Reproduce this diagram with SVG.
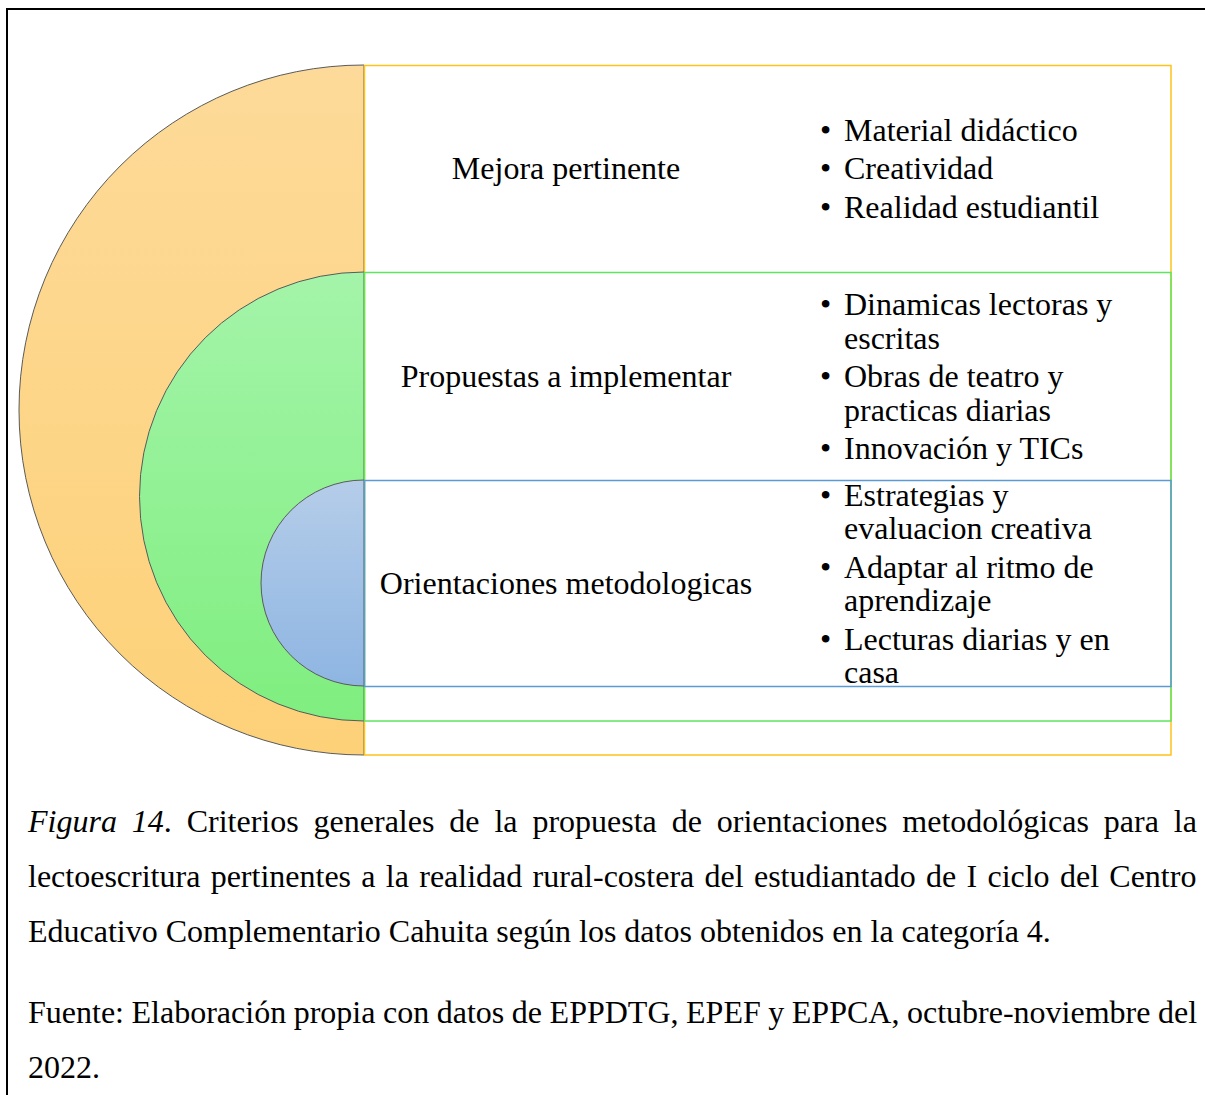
<svg xmlns="http://www.w3.org/2000/svg" width="1205" height="1095" viewBox="0 0 1205 1095">
<defs>
<linearGradient id="gO" x1="0" y1="0" x2="0" y2="1"><stop offset="0" stop-color="#FDDA99"/><stop offset="1" stop-color="#FDD178"/></linearGradient>
<linearGradient id="gG" x1="0" y1="0" x2="0" y2="1"><stop offset="0" stop-color="#A4F4A9"/><stop offset="1" stop-color="#7FEE7F"/></linearGradient>
<linearGradient id="gB" x1="0" y1="0" x2="0" y2="1"><stop offset="0" stop-color="#B5CDE9"/><stop offset="1" stop-color="#8EB5E2"/></linearGradient>
<style>
.t{font-family:"Liberation Serif","Times New Roman",serif;font-size:32px;fill:#000}
.c{font-family:"Liberation Serif","Times New Roman",serif;font-size:32px;fill:#000}
.arc{stroke:#5a5a5a;stroke-width:1}
.box{fill:none;stroke-width:1.5}
</style>
</defs>
<rect x="7" y="9" width="1210" height="1100" fill="#fff" stroke="#000" stroke-width="2"/>
<g id="outer">
<path class="arc" d="M364,65 A345,345 0 0 0 364,755 Z" fill="url(#gO)"/>
<rect class="box" x="364.5" y="65.5" width="806.5" height="689.5" stroke="#FFC21A"/>
<text class="t" x="566" y="179" text-anchor="middle">Mejora pertinente</text>
<text class="t" x="820" y="141">• <tspan x="844">Material didáctico</tspan></text>
<text class="t" x="820" y="179">• <tspan x="844">Creatividad</tspan></text>
<text class="t" x="820" y="218">• <tspan x="844">Realidad estudiantil</tspan></text>
</g>
<g id="middle">
<path class="arc" d="M364,272 A224.5,224.5 0 0 0 364,721 Z" fill="url(#gG)"/>
<rect class="box" x="364.5" y="272.5" width="806.5" height="448.5" stroke="#5EE65E"/>
<text class="t" x="566" y="387" text-anchor="middle">Propuestas a implementar</text>
<text class="t" x="820" y="315">• <tspan x="844">Dinamicas lectoras y</tspan></text>
<text class="t" x="844" y="349">escritas</text>
<text class="t" x="820" y="387">• <tspan x="844">Obras de teatro y</tspan></text>
<text class="t" x="844" y="421">practicas diarias</text>
<text class="t" x="820" y="459">• <tspan x="844">Innovación y TICs</tspan></text>
</g>
<g id="inner">
<path class="arc" d="M364,480 A103,103 0 0 0 364,686 Z" fill="url(#gB)"/>
<rect class="box" x="364.5" y="480.5" width="806.5" height="206" stroke="#5B9BD5"/>
<text class="t" x="566" y="594" text-anchor="middle">Orientaciones metodologicas</text>
<text class="t" x="820" y="506">• <tspan x="844">Estrategias y</tspan></text>
<text class="t" x="844" y="539">evaluacion creativa</text>
<text class="t" x="820" y="578">• <tspan x="844">Adaptar al ritmo de</tspan></text>
<text class="t" x="844" y="611">aprendizaje</text>
<text class="t" x="820" y="650">• <tspan x="844">Lecturas diarias y en</tspan></text>
<text class="t" x="844" y="683">casa</text>
</g>
<g id="connectors"/>
<g id="caption">
<text class="c" x="28" y="832" word-spacing="6.9"><tspan font-style="italic">Figura 14</tspan>. Criterios generales de la propuesta de orientaciones metodológicas para la</text>
<text class="c" x="28" y="887" word-spacing="2.3">lectoescritura pertinentes a la realidad rural-costera del estudiantado de I ciclo del Centro</text>
<text class="c" x="28" y="942">Educativo Complementario Cahuita según los datos obtenidos en la categoría 4.</text>
<text class="c" x="28" y="1023" word-spacing="-0.45">Fuente: Elaboración propia con datos de EPPDTG, EPEF y EPPCA, octubre-noviembre del</text>
<text class="c" x="28" y="1078">2022.</text>
</g>
</svg>
